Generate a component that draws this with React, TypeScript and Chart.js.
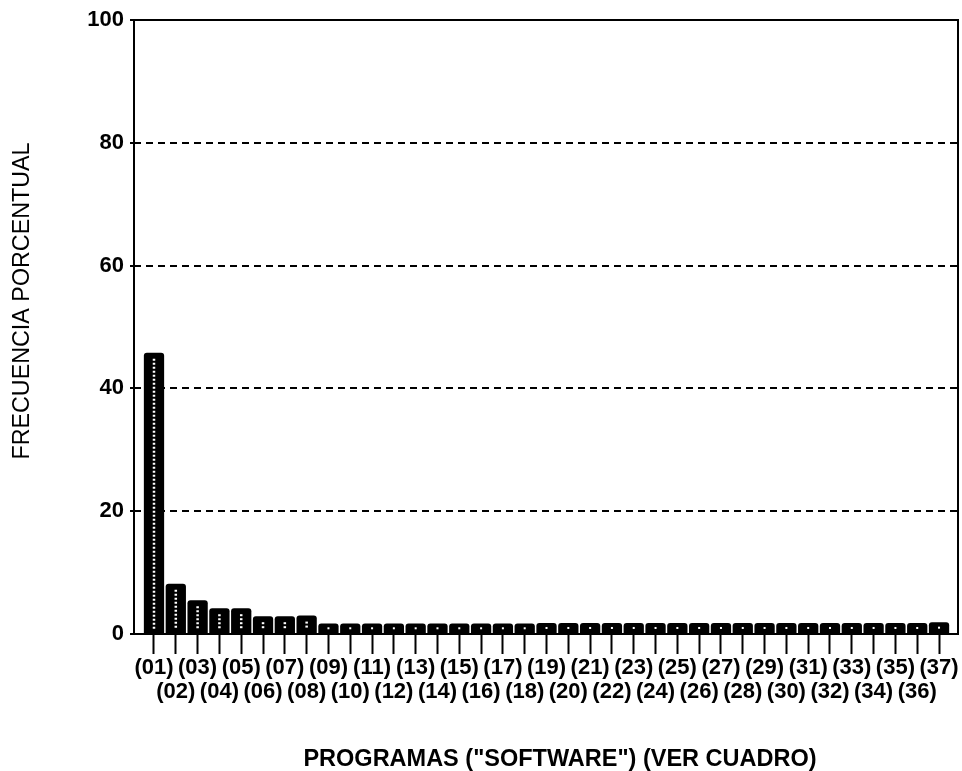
import React, { useEffect, useRef } from "react";
import { Chart, registerables } from "chart.js";

Chart.register(...registerables);

const programLabels: string[] = [
  "(01)", "(02)", "(03)", "(04)", "(05)", "(06)", "(07)", "(08)", "(09)", "(10)",
  "(11)", "(12)", "(13)", "(14)", "(15)", "(16)", "(17)", "(18)", "(19)", "(20)",
  "(21)", "(22)", "(23)", "(24)", "(25)", "(26)", "(27)", "(28)", "(29)", "(30)",
  "(31)", "(32)", "(33)", "(34)", "(35)", "(36)", "(37)",
];

const frequency: number[] = [
  45.8, 8.2, 5.5, 4.2, 4.2, 2.9, 2.9, 3.0, 1.7, 1.7,
  1.7, 1.7, 1.7, 1.7, 1.7, 1.7, 1.7, 1.7, 1.8, 1.8,
  1.8, 1.8, 1.8, 1.8, 1.8, 1.8, 1.8, 1.8, 1.8, 1.8,
  1.8, 1.8, 1.8, 1.8, 1.8, 1.8, 1.9,
];

const yTicks: number[] = [0, 20, 40, 60, 80, 100];

const xTitle = 'PROGRAMAS ("SOFTWARE") (VER CUADRO)';
const yTitle = "FRECUENCIA PORCENTUAL";

const FONT = "'Liberation Sans', Arial, Helvetica, sans-serif";

const framePlugin = {
  id: "frame",
  afterDatasetsDraw(chart: any) {
    const { ctx, chartArea: a } = chart;
    ctx.save();
    const meta = chart.getDatasetMeta(0);
    meta.data.forEach((bar: any) => {
      const { x, y, base } = bar.getProps(["x", "y", "base"], true);
      const h = base - y;
      if (h > 14) {
        ctx.strokeStyle = "#fff";
        ctx.lineWidth = 2.5;
        ctx.setLineDash([2, 2]);
        ctx.beginPath();
        ctx.moveTo(x, y + 6);
        ctx.lineTo(x, base - 4);
        ctx.stroke();
      } else {
        ctx.fillStyle = "#fff";
        ctx.fillRect(x - 1, (y + base) / 2 - 1, 2, 2);
      }
    });
    ctx.setLineDash([]);
    ctx.strokeStyle = "#000";
    ctx.lineWidth = 2;
    ctx.strokeRect(a.left, a.top, a.right - a.left, a.bottom - a.top);
    ctx.restore();
  },
  afterDraw(chart: any) {
    const { ctx } = chart;
    ctx.save();
    ctx.fillStyle = "#000";
    ctx.textAlign = "center";
    ctx.textBaseline = "middle";
    ctx.font = `bold 23.5px ${FONT}`;
    ctx.fillText(xTitle, 560, 760);
    ctx.translate(23, 301);
    ctx.rotate(-Math.PI / 2);
    ctx.font = `23.3px ${FONT}`;
    ctx.fillText(yTitle, 0, 0);
    ctx.restore();
  },
};

export default function App() {
  const ref = useRef<HTMLCanvasElement | null>(null);

  useEffect(() => {
    document.body.style.margin = "0";
    document.body.style.background = "#fff";
    if (!ref.current) return;
    const chart = new Chart(ref.current, {
      type: "bar",
      data: {
        datasets: [
          {
            data: frequency.map((v, i) => ({ x: i + 1, y: v })),
            backgroundColor: "#000",
            borderWidth: 0,
            borderRadius: 3,
            borderSkipped: "start",
            barPercentage: 0.93,
            categoryPercentage: 1,
          },
        ],
      },
      options: {
        responsive: false,
        maintainAspectRatio: false,
        animation: false,
        layout: { padding: { top: 20, right: 4, left: 0, bottom: 0 } },
        plugins: {
          legend: { display: false },
          tooltip: { enabled: false },
        },
        scales: {
          x: {
            type: "linear",
            min: 0.083,
            max: 37.87,
            offset: false,
            afterBuildTicks: (s: any) => {
              s.ticks = programLabels.map((_, i) => ({ value: i + 1 }));
            },
            afterFit: (s: any) => {
              s.height = 137;
            },
            ticks: {
              autoSkip: false,
              maxRotation: 0,
              minRotation: 0,
              color: "#000",
              padding: 2,
              font: { family: FONT, size: 22, weight: "bold", lineHeight: 1.08 },
              callback: (v: any) => {
                const i = Math.round(Number(v)) - 1;
                const l = programLabels[i] ?? "";
                return i % 2 === 0 ? [l, ""] : ["", l];
              },
            },
            grid: {
              offset: false,
              drawOnChartArea: false,
              tickLength: 20,
              tickColor: "#000",
              tickWidth: 2,
            },
            border: { display: false },
          },
          y: {
            min: 0,
            max: 100,
            afterBuildTicks: (s: any) => {
              s.ticks = yTicks.map((v) => ({ value: v }));
            },
            afterFit: (s: any) => {
              s.width = 134;
            },
            ticks: {
              color: "#000",
              padding: 6,
              font: { family: FONT, size: 22, weight: "bold" },
            },
            grid: {
              color: (c: any) =>
                c.tick && (c.tick.value === 0 || c.tick.value === 100)
                  ? "rgba(0,0,0,0)"
                  : "#000",
              lineWidth: 2,
              tickLength: 4,
              tickColor: "#000",
              tickWidth: 2,
            },
            border: { display: false, dash: [7, 5] },
          },
        },
      },
      plugins: [framePlugin],
    } as any);
    return () => chart.destroy();
  }, []);

  return (
    <div style={{ width: 962, height: 771 }}>
      <canvas ref={ref} width={962} height={771} />
    </div>
  );
}
